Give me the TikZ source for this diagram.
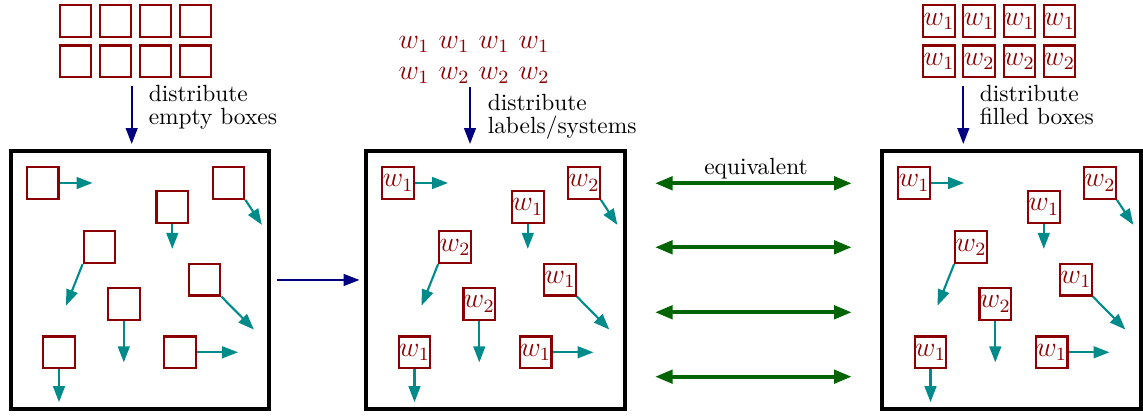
\documentclass[tikz,border=0pt]{standalone}
\usetikzlibrary{arrows.meta}
\definecolor{boxred}{RGB}{139,0,0}
\definecolor{moveteal}{RGB}{0,139,139}
\definecolor{flownavy}{RGB}{0,0,128}
\definecolor{eqgreen}{RGB}{0,100,0}
\newcommand{\panelboxes}[9]{%
  \node[sbox] (#1a) at (42.7,183) {#2};
  \node[sbox] (#1b) at (172.3,207) {#3};
  \node[sbox] (#1c) at (228.5,183) {#4};
  \node[sbox] (#1d) at (99.5,247.2) {#5};
  \node[sbox] (#1e) at (204.5,279.7) {#6};
  \node[sbox] (#1f) at (123.8,304) {#7};
  \node[sbox] (#1g) at (59,352.3) {#8};
  \node[sbox] (#1h) at (180.2,352.3) {#9};
  \draw[move] (#1a.east) -- ++(33,0);
  \draw[move] (#1b.south) -- ++(0,25);
  \draw[move] (#1c.south east) -- ++(16.5,25);
  \draw[move] (#1d.south west) -- ++(-16.5,41.5);
  \draw[move] (#1e.south east) -- ++(32.5,33);
  \draw[move] (#1f.south) -- ++(0,41.5);
  \draw[move] (#1g.south) -- ++(0,33);
  \draw[move] (#1h.east) -- ++(41,0);
}
\begin{document}
\begin{tikzpicture}[x=0.427pt,y=-0.427pt,
  sbox/.style={draw=boxred, line width=0.9pt, minimum size=13.5pt, inner sep=0pt, text=boxred, font=\fontsize{11.8}{13}\selectfont},
  wlab/.style={text=boxred, inner sep=0pt, anchor=base, font=\fontsize{11.8}{13}\selectfont},
  panel/.style={draw=black, line width=1.7pt, minimum width=110.2pt, minimum height=110.2pt, inner sep=0pt},
  move/.style={draw=moveteal, line width=0.9pt, -{Triangle[length=6.8pt,width=5pt]}},
  flow/.style={draw=flownavy, line width=0.9pt, -{Triangle[length=6.8pt,width=5pt]}},
  eqv/.style={draw=eqgreen, line width=1.7pt, {Triangle[length=7.5pt,width=5.6pt]}-{Triangle[length=7.5pt,width=5.6pt]}},
  note/.style={align=left, inner sep=0pt, font=\fontsize{10}{10}\selectfont}]
\useasboundingbox (0,0) rectangle (1143,417);

% panels
\node[panel] (p1) at (140,280) {};
\node[panel] (p2) at (495.5,280) {};
\node[panel] (p3) at (1011.5,280) {};

\panelboxes{a}{}{}{}{}{}{}{}{}
\begin{scope}[shift={(355.5,0)}]
\panelboxes{b}{$w_1$}{$w_1$}{$w_2$}{$w_2$}{$w_1$}{$w_2$}{$w_1$}{$w_1$}
\end{scope}
\begin{scope}[shift={(871.5,0)}]
\panelboxes{c}{$w_1$}{$w_1$}{$w_2$}{$w_2$}{$w_1$}{$w_2$}{$w_1$}{$w_1$}
\end{scope}

% top left grid of empty boxes
\foreach \i in {0,...,3}{
  \node[sbox] (tl\i) at (75.5+40*\i,21.2) {};
  \node[sbox] (bl\i) at (75.5+40*\i,61.3) {};
}
% top right grid of filled boxes
\foreach \i/\l in {0/1,1/1,2/1,3/1}{
  \node[sbox] (tr\i) at (939+40.2*\i,21.2) {$w_\l$};
}
\foreach \i/\l in {0/1,1/2,2/2,3/2}{
  \node[sbox] (br\i) at (939+40.2*\i,61.3) {$w_\l$};
}
% middle labels
\foreach \i/\l in {0/1,1/1,2/1,3/1}{
  \node[wlab] (tm\i) at (414+40*\i,48.3) {$w_\l$};
}
\foreach \i/\l in {0/1,1/2,2/2,3/2}{
  \node[wlab] (bm\i) at (414+40*\i,79.3) {$w_\l$};
}

% distribute arrows
\coordinate (s1) at (131.7,86);   \coordinate (e1) at (131.7,144);
\coordinate (s2) at (470,86.7);   \coordinate (e2) at (470,144);
\coordinate (s3) at (963.3,86);   \coordinate (e3) at (963.3,144);
\draw[flow] (s1) -- (e1);
\draw[flow] (s2) -- (e2);
\draw[flow] (s3) -- (e3);
\node[note, anchor=base west] (n1) at (148.3,125) {distribute\\empty boxes};
\node[note, anchor=base west] (n2) at (487.3,133.5) {distribute\\labels/systems};
\node[note, anchor=base west] (n3) at (979.3,125) {distribute\\filled boxes};

% arrow between panel 1 and 2
\draw[flow, shorten <=2.4pt, shorten >=2.1pt] (p1) -- (p2);

% equivalence arrows
\foreach \k/\yy in {1/183.3,2/247.3,3/312.3,4/376.7}{
  \coordinate (ql\k) at (655,\yy);
  \coordinate (qr\k) at (851.7,\yy);
  \draw[eqv] (ql\k) -- (qr\k);
}
\node[inner sep=0pt, anchor=base, font=\fontsize{10}{10}\selectfont] (eqt) at (756,175) {equivalent};
\end{tikzpicture}
\end{document}
